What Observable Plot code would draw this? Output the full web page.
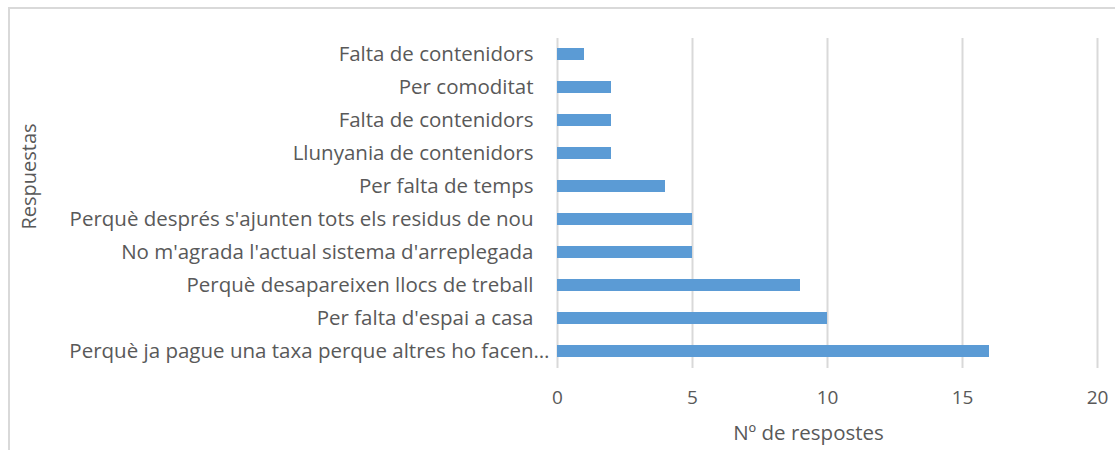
<!DOCTYPE html>
<html>
<head>
<meta charset="utf-8">
<script src="https://cdn.jsdelivr.net/npm/d3@7"></script>
<script src="https://cdn.jsdelivr.net/npm/@observablehq/plot@0.6"></script>
<style>
  html, body { margin: 0; padding: 0; background: #fff; overflow: hidden; }
  #wrap { position: relative; width: 1115px; height: 450px; }
  #border { position: absolute; left: 8px; top: 7px; width: 1200px; height: 600px;
            border-left: 2px solid #d9d9d9; border-top: 2px solid #d9d9d9; box-sizing: border-box; }
  #chart { position: absolute; left: 0; top: 0; }
</style>
</head>
<body>
<div id="wrap"><div id="border"></div><div id="chart"></div></div>
<script>
const categories = [
  "Falta de contenidors",
  "Per comoditat",
  "Falta de contenidors",
  "Llunyania de contenidors",
  "Per falta de temps",
  "Perquè després s'ajunten tots els residus de nou",
  "No m'agrada l'actual sistema d'arreplegada",
  "Perquè desapareixen llocs de treball",
  "Per falta d'espai a casa",
  "Perquè ja pague una taxa perque altres ho facen…"
];
const values = [1, 2, 2, 2, 4, 5, 5, 9, 10, 16];
const xTicks = [0, 5, 10, 15, 20];
const xTitle = "Nº de respostes";
const yTitle = "Respuestas";

const data = categories.map((c, i) => ({i, category: c, value: values[i]}));
const idx = d3.range(categories.length);
const lastIdx = categories.length - 1;
const font = "'Open Sans', sans-serif";
const grey = "#595959";

const chart = Plot.plot({
  width: 1115,
  height: 450,
  marginLeft: 557,
  marginRight: 18,
  marginTop: 38,
  marginBottom: 82,
  style: {fontFamily: font, color: grey, background: "transparent"},
  x: {domain: [0, 20], ticks: xTicks},
  y: {domain: idx, paddingInner: 0.636, paddingOuter: 0.318},
  marks: [
    Plot.gridX(xTicks, {stroke: "#d9d9d9", strokeOpacity: 1, strokeWidth: 2}),
    Plot.barX(data, {x: "value", y: "i", fill: "#5b9bd5"}),
    Plot.axisY({ticks: idx.filter(i => i !== lastIdx), tickSize: 0, tickPadding: 24, fontSize: 20.5, label: null,
                tickFormat: i => categories[i], fill: grey}),
    Plot.axisY({ticks: [lastIdx], tickSize: 0, tickPadding: 8, fontSize: 20.5, label: null,
                tickFormat: i => categories[i], fill: grey}),
    Plot.axisX({tickSize: 0, tickPadding: 22, fontSize: 19, label: null,
                ticks: xTicks, fill: grey}),
    Plot.text([xTitle], {frameAnchor: "bottom", dy: 65, dx: -19, fontSize: 20.5, fill: grey, lineAnchor: "middle"}),
    Plot.text([yTitle], {frameAnchor: "left", rotate: -90, dx: -528, dy: -27, fontSize: 20, fill: grey, textAnchor: "middle"})
  ]
});
document.getElementById("chart").appendChild(chart);
</script>
</body>
</html>
